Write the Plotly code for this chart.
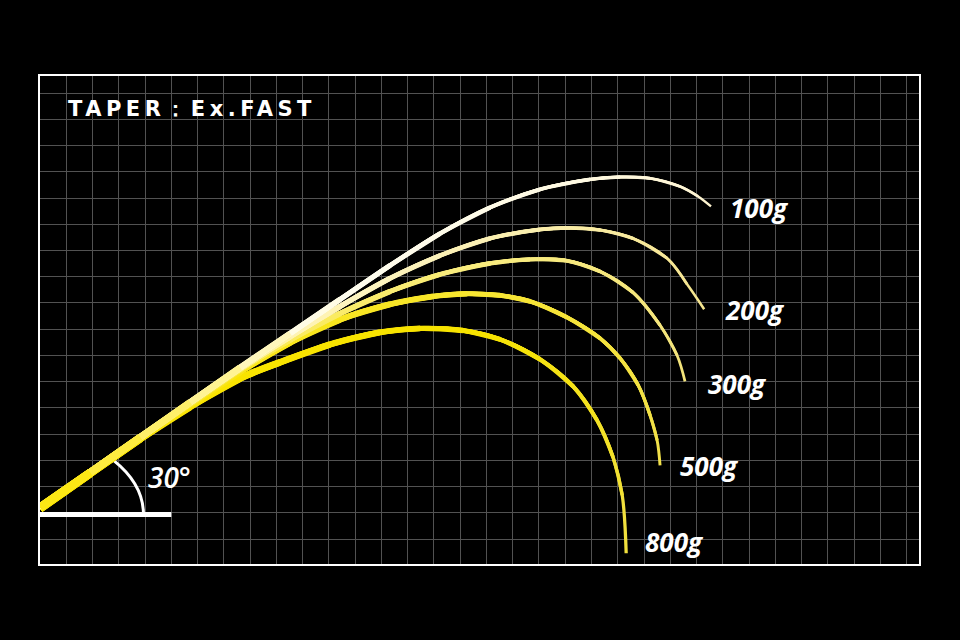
import plotly.graph_objects as go

# ---- Data: rod bend curves (units = grid cells) ----
loads = ["100g", "200g", "300g", "500g", "800g"]

x_100g = [0, 1.91, 3.82, 5.72, 7.62, 9.53, 11.43, 13.33, 15.24, 17.14, 19.04, 20.95, 22.09, 23.23, 24.37, 25.06, 25.55]
y_100g = [0.21, 1.54, 2.88, 4.21, 5.54, 6.84, 8.14, 9.43, 10.65, 11.64, 12.33, 12.71, 12.80, 12.75, 12.44, 12.06, 11.68]

x_200g = [0, 1.91, 3.82, 5.72, 7.62, 9.53, 11.43, 13.33, 15.24, 17.14, 19.04, 20.19, 21.33, 22.58, 23.88, 24.64, 25.29]
y_200g = [0.21, 1.54, 2.88, 4.21, 5.51, 6.72, 7.87, 8.94, 9.81, 10.46, 10.80, 10.86, 10.78, 10.46, 9.70, 8.71, 7.76]

x_300g = [0, 1.91, 3.82, 5.72, 7.62, 9.53, 11.43, 13.33, 15.24, 17.14, 18.66, 20.00, 21.33, 22.58, 23.61, 24.26, 24.56]
y_300g = [0.21, 1.54, 2.88, 4.17, 5.47, 6.60, 7.60, 8.44, 9.09, 9.51, 9.66, 9.62, 9.20, 8.40, 7.15, 6.00, 5.01]

x_500g = [0, 1.91, 3.82, 5.72, 7.62, 9.53, 11.43, 13.33, 14.97, 16.27, 17.52, 18.66, 20.07, 21.33, 22.09, 22.78, 23.23, 23.50, 23.61]
y_500g = [0.17, 1.51, 2.84, 4.13, 5.39, 6.50, 7.37, 7.95, 8.25, 8.35, 8.29, 8.06, 7.45, 6.65, 5.89, 4.86, 3.72, 2.76, 1.81]

x_800g = [0, 1.91, 3.82, 5.72, 7.62, 9.15, 11.05, 12.95, 14.48, 16.11, 17.52, 19.04, 20.30, 21.21, 21.82, 22.17, 22.32]
y_800g = [0.17, 1.51, 2.84, 4.06, 5.13, 5.74, 6.42, 6.88, 7.03, 6.95, 6.61, 5.85, 4.82, 3.53, 2.12, 0.67, -1.54]

title_text = "TAPER：Ex.FAST"
angle_text = "30°"

# ---- Styles ----
YEL = "#fbe500"
styles = {
    "100g": dict(stops=[(0, YEL), (0.18, "#fff07a"), (0.36, "#fffdf0"), (0.6, "#fffbe6"), (1, "#fff4cf")], w0=8.0, w1=2.3, dx=17, dy=-2),
    "200g": dict(stops=[(0, YEL), (0.22, "#fff29a"), (0.4, "#fdf4c0"), (0.7, "#f9eca6"), (1, "#f4e48c")], w0=8.0, w1=2.5, dx=19, dy=-1),
    "300g": dict(stops=[(0, YEL), (0.3, "#faeb5c"), (0.55, "#f9ec80"), (1, "#f2e27a")], w0=8.0, w1=2.7, dx=21, dy=-3),
    "500g": dict(stops=[(0, YEL), (0.5, "#f8e630"), (1, "#f1e04c")], w0=8.5, w1=2.9, dx=18, dy=-1),
    "800g": dict(stops=[(0, YEL), (0.6, "#f7e300"), (1, "#f1e042")], w0=9.0, w1=3.2, dx=17, dy=11),
}
series = {
    "100g": (x_100g, y_100g),
    "200g": (x_200g, y_200g),
    "300g": (x_300g, y_300g),
    "500g": (x_500g, y_500g),
    "800g": (x_800g, y_800g),
}


def hex2rgb(h):
    h = h.lstrip("#")
    return tuple(int(h[i:i + 2], 16) for i in (0, 2, 4))


def color_at(stops, t):
    for (t0, c0), (t1, c1) in zip(stops[:-1], stops[1:]):
        if t <= t1:
            f = 0 if t1 == t0 else (t - t0) / (t1 - t0)
            a, b = hex2rgb(c0), hex2rgb(c1)
            return "rgb(%d,%d,%d)" % tuple(round(a[i] + (b[i] - a[i]) * f) for i in range(3))
    return stops[-1][1]


fig = go.Figure()

# draw heaviest first so lighter rods sit on top of the shared butt section
for name in ["800g", "500g", "300g", "200g", "100g"]:
    xs, ys = series[name]
    st = styles[name]
    n = len(xs)
    for k in range(n - 1, 0, -1):
        t = (k - 0.5) / (n - 1)
        w = st["w1"] + (st["w0"] - st["w1"]) * (1 - t) ** 1.3
        fig.add_trace(go.Scatter(
            x=xs[:k + 1], y=ys[:k + 1], mode="lines",
            line=dict(color=color_at(st["stops"], t), width=w, shape="spline", smoothing=1.0),
            hoverinfo="skip", showlegend=False,
        ))

label_font = dict(family="Open Sans, DejaVu Sans, sans-serif", size=26, color="white", style="italic", weight=700)

# load labels at rod tips
for name in loads:
    xs, ys = series[name]
    st = styles[name]
    fig.add_annotation(
        x=xs[-1], y=ys[-1], xref="x", yref="y", text=name, showarrow=False,
        xanchor="left", yanchor="middle", xshift=st["dx"], yshift=st["dy"],
        font=label_font,
    )

# 30° angle marker: baseline and arc
fig.add_shape(type="line", x0=0, y0=-0.06, x1=5.0, y1=-0.06, xref="x", yref="y",
              line=dict(color="white", width=5), layer="between")
fig.add_shape(type="path", path="M 2.80,2.00 Q 3.94,1.09 3.94,-0.06", xref="x", yref="y",
              line=dict(color="white", width=3), layer="between")
fig.add_annotation(x=4.05, y=1.35, xref="x", yref="y", text=angle_text, showarrow=False,
                   xanchor="left", yanchor="middle",
                   font=dict(family="Open Sans, DejaVu Sans, sans-serif", size=28, color="white", style="italic", weight=600))

# title
fig.add_annotation(x=0.98, y=15.38, xref="x", yref="y",
                   text='<span style="letter-spacing:4.5px">' + title_text + '</span>',
                   showarrow=False, xanchor="left", yanchor="middle",
                   font=dict(family="DejaVu Sans, sans-serif", size=21, color="white", weight=700))

axis_common = dict(showgrid=True, gridcolor="#525252", gridwidth=1, zeroline=False,
                   showticklabels=False, ticks="", showline=True, linecolor="white",
                   linewidth=2, mirror=True, tick0=0, dtick=1, fixedrange=True)

fig.update_layout(
    width=960, height=640,
    paper_bgcolor="black", plot_bgcolor="black",
    margin=dict(l=40, r=41, t=76, b=76),
    xaxis=dict(range=[0, 33.47], **axis_common),
    yaxis=dict(range=[-1.95, 16.65], **axis_common),
    showlegend=False,
)

fig.write_html(
    "out.html",
    config={"displayModeBar": False},
    post_script="document.body.style.margin='0';document.body.style.background='black';",
)
